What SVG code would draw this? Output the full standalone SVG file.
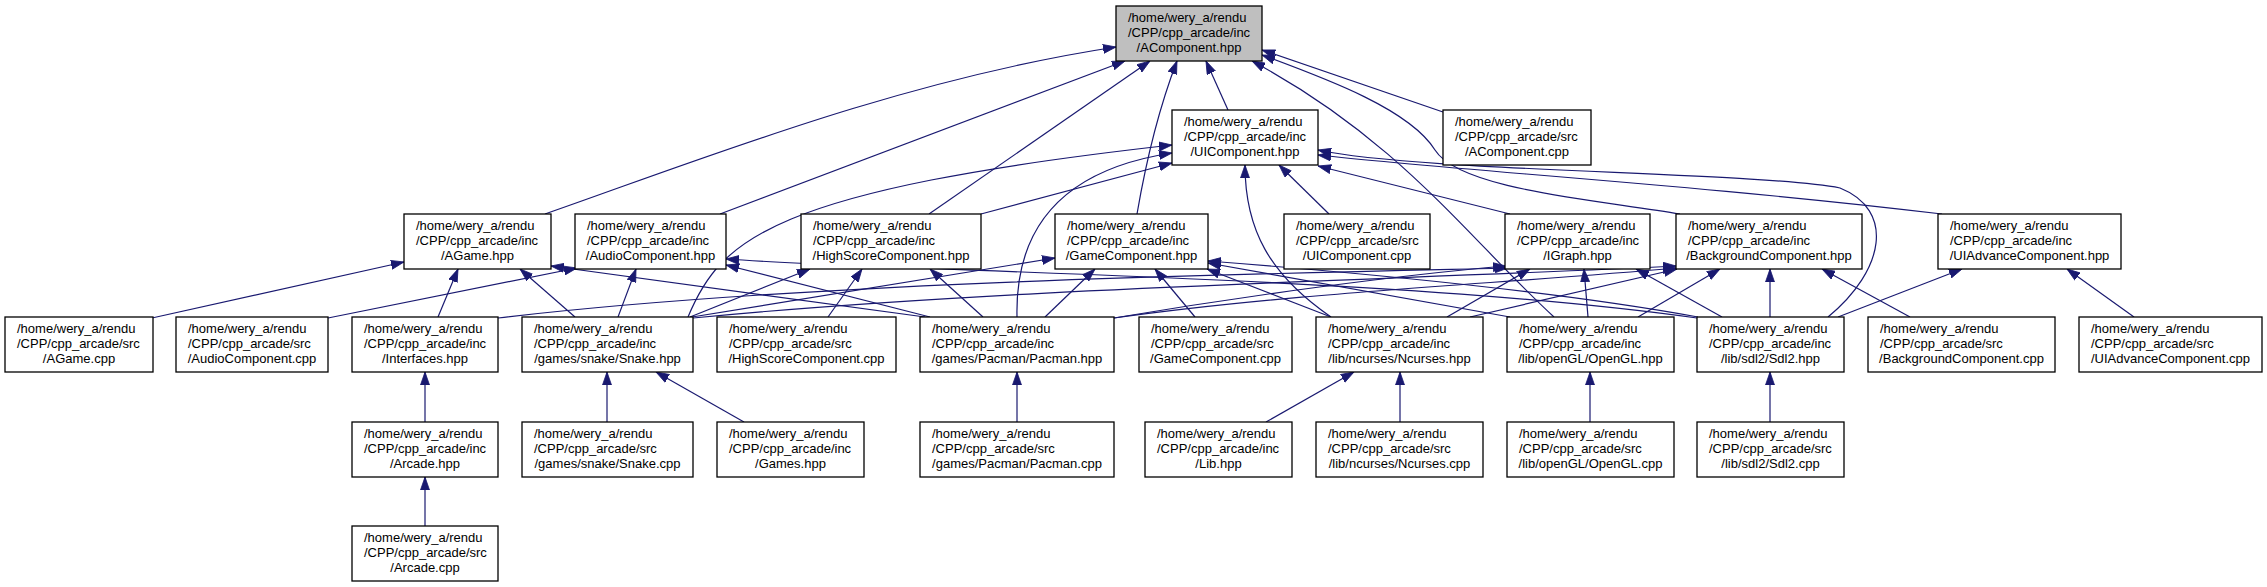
<svg xmlns="http://www.w3.org/2000/svg" width="2267" height="587" viewBox="0 0 2267 587">
<style>
.node rect{fill:#fff;stroke:#000;stroke-width:1.3}
.root rect{fill:#bfbfbf}
text{font-family:"Liberation Sans",Arial,Helvetica,sans-serif;font-size:13px;fill:#000}
.c{text-anchor:middle}
.e{fill:none;stroke:#191970;stroke-width:1.2;marker-end:url(#arr)}
</style>
<defs>
<marker id="arr" markerUnits="userSpaceOnUse" markerWidth="13" markerHeight="10" refX="13" refY="4.5" orient="auto" viewBox="0 0 13 9">
<path d="M0,0 L13,4.5 L0,9 z" fill="#191970" stroke="#191970" stroke-width="0.8"/>
</marker>
</defs>
<rect width="2267" height="587" fill="#fff"/>
<g id="connectors">
<path class="e" d="M545,214 C700,160 900,80 1116,47"/>
<path class="e" d="M720,214 L1125,61"/>
<path class="e" d="M929,214 L1150,61"/>
<path class="e" d="M1137,214 C1148,150 1162,100 1177,61"/>
<path class="e" d="M1228,110 L1206,61"/>
<path class="e" d="M1554,317 C1470,240 1400,140 1252,61"/>
<path class="e" d="M1680,214 C1600,200 1460,190 1435,150 C1410,110 1330,80 1262,55"/>
<path class="e" d="M1443,112 L1262,50"/>
<path class="e" d="M981,214 L1172,163"/>
<path class="e" d="M688,317 C720,240 770,190 1172,145"/>
<path class="e" d="M1017,317 C1015,230 1060,170 1172,153"/>
<path class="e" d="M1329,214 L1279,165"/>
<path class="e" d="M1331,317 C1270,275 1245,230 1245,165"/>
<path class="e" d="M1510,214 L1318,166"/>
<path class="e" d="M1828,317 C1885,270 1895,210 1840,188 C1760,172 1420,172 1318,150"/>
<path class="e" d="M1942,214 C1700,185 1450,170 1318,155"/>
<path class="e" d="M152,318 L404,262"/>
<path class="e" d="M438,317 L458,269"/>
<path class="e" d="M575,317 L520,269"/>
<path class="e" d="M925,317 L551,266"/>
<path class="e" d="M328,318 L577,268"/>
<path class="e" d="M618,317 L636,269"/>
<path class="e" d="M930,317 L726,265"/>
<path class="e" d="M1697,318 C1400,276 900,272 726,259"/>
<path class="e" d="M690,317 L810,269"/>
<path class="e" d="M828,317 L862,269"/>
<path class="e" d="M983,317 L930,269"/>
<path class="e" d="M692,317 L1055,258"/>
<path class="e" d="M1045,317 L1095,269"/>
<path class="e" d="M1195,317 L1155,269"/>
<path class="e" d="M1331,317 L1207,269"/>
<path class="e" d="M1510,317 L1208,263"/>
<path class="e" d="M1698,317 C1550,290 1350,272 1208,261"/>
<path class="e" d="M498,318 C800,282 1250,274 1508,268"/>
<path class="e" d="M1114,318 C1250,295 1400,275 1506,266"/>
<path class="e" d="M1447,317 L1530,269"/>
<path class="e" d="M1588,317 L1584,269"/>
<path class="e" d="M1722,317 L1636,269"/>
<path class="e" d="M693,318 C1000,288 1400,280 1676,266"/>
<path class="e" d="M1114,318 C1300,292 1500,284 1676,268"/>
<path class="e" d="M1470,317 L1677,269"/>
<path class="e" d="M1638,317 L1720,269"/>
<path class="e" d="M1770,317 L1770,269"/>
<path class="e" d="M1910,317 L1822,269"/>
<path class="e" d="M1838,317 L1962,269"/>
<path class="e" d="M2134,317 L2067,269"/>
<path class="e" d="M425,422 L425,372"/>
<path class="e" d="M607,422 L607,372"/>
<path class="e" d="M744,422 L656,372"/>
<path class="e" d="M1017,422 L1017,372"/>
<path class="e" d="M1266,422 L1354,372"/>
<path class="e" d="M1400,422 L1400,372"/>
<path class="e" d="M1590,422 L1590,372"/>
<path class="e" d="M1770,422 L1770,372"/>
<path class="e" d="M425,526 L425,477"/>
</g>
<g id="AComponent_hpp" class="node root"><rect x="1116" y="6" width="146" height="55"/><text x="1128" y="21.5">/home/wery_a/rendu</text><text x="1128" y="36.5">/CPP/cpp_arcade/inc</text><text class="c" x="1189" y="51.5">/AComponent.hpp</text></g>
<g id="UIComponent_hpp" class="node"><rect x="1172" y="110" width="146" height="55"/><text x="1184" y="125.5">/home/wery_a/rendu</text><text x="1184" y="140.5">/CPP/cpp_arcade/inc</text><text class="c" x="1245" y="155.5">/UIComponent.hpp</text></g>
<g id="AComponent_cpp" class="node"><rect x="1443" y="110" width="148" height="55"/><text x="1455" y="125.5">/home/wery_a/rendu</text><text x="1455" y="140.5">/CPP/cpp_arcade/src</text><text class="c" x="1517" y="155.5">/AComponent.cpp</text></g>
<g id="AGame_hpp" class="node"><rect x="404" y="214" width="147" height="55"/><text x="416" y="229.5">/home/wery_a/rendu</text><text x="416" y="244.5">/CPP/cpp_arcade/inc</text><text class="c" x="477.5" y="259.5">/AGame.hpp</text></g>
<g id="AudioComponent_hpp" class="node"><rect x="575" y="214" width="151" height="55"/><text x="587" y="229.5">/home/wery_a/rendu</text><text x="587" y="244.5">/CPP/cpp_arcade/inc</text><text class="c" x="650.5" y="259.5">/AudioComponent.hpp</text></g>
<g id="HighScoreComponent_hpp" class="node"><rect x="801" y="214" width="180" height="55"/><text x="813" y="229.5">/home/wery_a/rendu</text><text x="813" y="244.5">/CPP/cpp_arcade/inc</text><text class="c" x="891" y="259.5">/HighScoreComponent.hpp</text></g>
<g id="GameComponent_hpp" class="node"><rect x="1055" y="214" width="153" height="55"/><text x="1067" y="229.5">/home/wery_a/rendu</text><text x="1067" y="244.5">/CPP/cpp_arcade/inc</text><text class="c" x="1131.5" y="259.5">/GameComponent.hpp</text></g>
<g id="UIComponent_cpp" class="node"><rect x="1284" y="214" width="146" height="55"/><text x="1296" y="229.5">/home/wery_a/rendu</text><text x="1296" y="244.5">/CPP/cpp_arcade/src</text><text class="c" x="1357" y="259.5">/UIComponent.cpp</text></g>
<g id="IGraph_hpp" class="node"><rect x="1505" y="214" width="145" height="55"/><text x="1517" y="229.5">/home/wery_a/rendu</text><text x="1517" y="244.5">/CPP/cpp_arcade/inc</text><text class="c" x="1577.5" y="259.5">/IGraph.hpp</text></g>
<g id="BackgroundComponent_hpp" class="node"><rect x="1676" y="214" width="186" height="55"/><text x="1688" y="229.5">/home/wery_a/rendu</text><text x="1688" y="244.5">/CPP/cpp_arcade/inc</text><text class="c" x="1769" y="259.5">/BackgroundComponent.hpp</text></g>
<g id="UIAdvanceComponent_hpp" class="node"><rect x="1938" y="214" width="183" height="55"/><text x="1950" y="229.5">/home/wery_a/rendu</text><text x="1950" y="244.5">/CPP/cpp_arcade/inc</text><text class="c" x="2029.5" y="259.5">/UIAdvanceComponent.hpp</text></g>
<g id="AGame_cpp" class="node"><rect x="5" y="317" width="148" height="55"/><text x="17" y="332.5">/home/wery_a/rendu</text><text x="17" y="347.5">/CPP/cpp_arcade/src</text><text class="c" x="79" y="362.5">/AGame.cpp</text></g>
<g id="AudioComponent_cpp" class="node"><rect x="176" y="317" width="152" height="55"/><text x="188" y="332.5">/home/wery_a/rendu</text><text x="188" y="347.5">/CPP/cpp_arcade/src</text><text class="c" x="252" y="362.5">/AudioComponent.cpp</text></g>
<g id="Interfaces_hpp" class="node"><rect x="352" y="317" width="146" height="55"/><text x="364" y="332.5">/home/wery_a/rendu</text><text x="364" y="347.5">/CPP/cpp_arcade/inc</text><text class="c" x="425" y="362.5">/Interfaces.hpp</text></g>
<g id="Snake_hpp" class="node"><rect x="522" y="317" width="171" height="55"/><text x="534" y="332.5">/home/wery_a/rendu</text><text x="534" y="347.5">/CPP/cpp_arcade/inc</text><text class="c" x="607.5" y="362.5">/games/snake/Snake.hpp</text></g>
<g id="HighScoreComponent_cpp" class="node"><rect x="717" y="317" width="179" height="55"/><text x="729" y="332.5">/home/wery_a/rendu</text><text x="729" y="347.5">/CPP/cpp_arcade/src</text><text class="c" x="806.5" y="362.5">/HighScoreComponent.cpp</text></g>
<g id="Pacman_hpp" class="node"><rect x="920" y="317" width="194" height="55"/><text x="932" y="332.5">/home/wery_a/rendu</text><text x="932" y="347.5">/CPP/cpp_arcade/inc</text><text class="c" x="1017" y="362.5">/games/Pacman/Pacman.hpp</text></g>
<g id="GameComponent_cpp" class="node"><rect x="1139" y="317" width="153" height="55"/><text x="1151" y="332.5">/home/wery_a/rendu</text><text x="1151" y="347.5">/CPP/cpp_arcade/src</text><text class="c" x="1215.5" y="362.5">/GameComponent.cpp</text></g>
<g id="Ncurses_hpp" class="node"><rect x="1316" y="317" width="167" height="55"/><text x="1328" y="332.5">/home/wery_a/rendu</text><text x="1328" y="347.5">/CPP/cpp_arcade/inc</text><text class="c" x="1399.5" y="362.5">/lib/ncurses/Ncurses.hpp</text></g>
<g id="OpenGL_hpp" class="node"><rect x="1507" y="317" width="167" height="55"/><text x="1519" y="332.5">/home/wery_a/rendu</text><text x="1519" y="347.5">/CPP/cpp_arcade/inc</text><text class="c" x="1590.5" y="362.5">/lib/openGL/OpenGL.hpp</text></g>
<g id="Sdl2_hpp" class="node"><rect x="1697" y="317" width="147" height="55"/><text x="1709" y="332.5">/home/wery_a/rendu</text><text x="1709" y="347.5">/CPP/cpp_arcade/inc</text><text class="c" x="1770.5" y="362.5">/lib/sdl2/Sdl2.hpp</text></g>
<g id="BackgroundComponent_cpp" class="node"><rect x="1868" y="317" width="187" height="55"/><text x="1880" y="332.5">/home/wery_a/rendu</text><text x="1880" y="347.5">/CPP/cpp_arcade/src</text><text class="c" x="1961.5" y="362.5">/BackgroundComponent.cpp</text></g>
<g id="UIAdvanceComponent_cpp" class="node"><rect x="2079" y="317" width="183" height="55"/><text x="2091" y="332.5">/home/wery_a/rendu</text><text x="2091" y="347.5">/CPP/cpp_arcade/src</text><text class="c" x="2170.5" y="362.5">/UIAdvanceComponent.cpp</text></g>
<g id="Arcade_hpp" class="node"><rect x="352" y="422" width="146" height="55"/><text x="364" y="437.5">/home/wery_a/rendu</text><text x="364" y="452.5">/CPP/cpp_arcade/inc</text><text class="c" x="425" y="467.5">/Arcade.hpp</text></g>
<g id="Snake_cpp" class="node"><rect x="522" y="422" width="171" height="55"/><text x="534" y="437.5">/home/wery_a/rendu</text><text x="534" y="452.5">/CPP/cpp_arcade/src</text><text class="c" x="607.5" y="467.5">/games/snake/Snake.cpp</text></g>
<g id="Games_hpp" class="node"><rect x="717" y="422" width="147" height="55"/><text x="729" y="437.5">/home/wery_a/rendu</text><text x="729" y="452.5">/CPP/cpp_arcade/inc</text><text class="c" x="790.5" y="467.5">/Games.hpp</text></g>
<g id="Pacman_cpp" class="node"><rect x="920" y="422" width="194" height="55"/><text x="932" y="437.5">/home/wery_a/rendu</text><text x="932" y="452.5">/CPP/cpp_arcade/src</text><text class="c" x="1017" y="467.5">/games/Pacman/Pacman.cpp</text></g>
<g id="Lib_hpp" class="node"><rect x="1145" y="422" width="147" height="55"/><text x="1157" y="437.5">/home/wery_a/rendu</text><text x="1157" y="452.5">/CPP/cpp_arcade/inc</text><text class="c" x="1218.5" y="467.5">/Lib.hpp</text></g>
<g id="Ncurses_cpp" class="node"><rect x="1316" y="422" width="167" height="55"/><text x="1328" y="437.5">/home/wery_a/rendu</text><text x="1328" y="452.5">/CPP/cpp_arcade/src</text><text class="c" x="1399.5" y="467.5">/lib/ncurses/Ncurses.cpp</text></g>
<g id="OpenGL_cpp" class="node"><rect x="1507" y="422" width="167" height="55"/><text x="1519" y="437.5">/home/wery_a/rendu</text><text x="1519" y="452.5">/CPP/cpp_arcade/src</text><text class="c" x="1590.5" y="467.5">/lib/openGL/OpenGL.cpp</text></g>
<g id="Sdl2_cpp" class="node"><rect x="1697" y="422" width="147" height="55"/><text x="1709" y="437.5">/home/wery_a/rendu</text><text x="1709" y="452.5">/CPP/cpp_arcade/src</text><text class="c" x="1770.5" y="467.5">/lib/sdl2/Sdl2.cpp</text></g>
<g id="Arcade_cpp" class="node"><rect x="352" y="526" width="146" height="55"/><text x="364" y="541.5">/home/wery_a/rendu</text><text x="364" y="556.5">/CPP/cpp_arcade/src</text><text class="c" x="425" y="571.5">/Arcade.cpp</text></g>
</svg>
